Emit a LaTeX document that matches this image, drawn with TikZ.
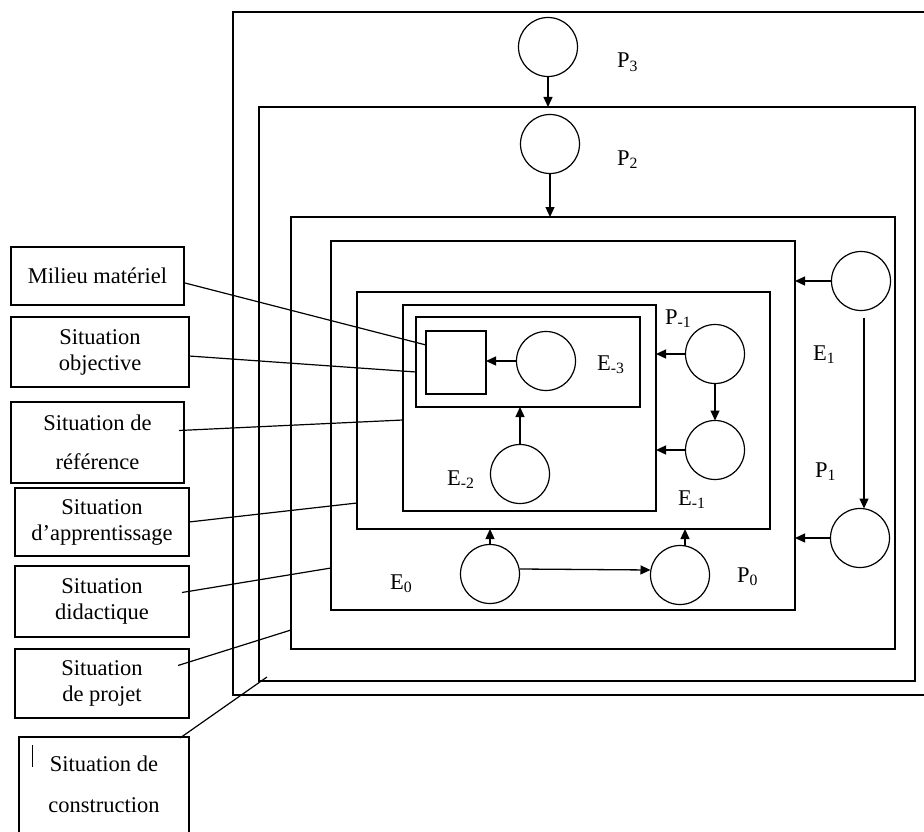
\documentclass[tikz,border=0pt]{standalone}
\usepackage{fontspec}
\setmainfont{Liberation Serif}
\usetikzlibrary{arrows.meta,calc}
\begin{document}
\begin{tikzpicture}[x=1pt,y=-1pt,
  frame/.style={draw, line width=1.5pt, inner sep=0pt, outer sep=0pt},
  circ/.style={draw, circle, line width=1.2pt, minimum size=59pt, inner sep=0pt, outer sep=0pt},
  lbl/.style={draw, line width=1.5pt, inner sep=0pt, outer sep=0pt, align=center, font=\fontsize{22.5}{26}\selectfont},
  tag/.style={anchor=base west, inner sep=0pt, font=\fontsize{22.5}{26}\selectfont},
  arr/.style={-{Triangle[length=10pt,width=9pt]}, line width=1.3pt},
  lead/.style={line width=1.2pt}
]
\useasboundingbox (0,0) rectangle (924,832);

% outer frame (right side lies beyond the picture)
\draw[line width=1.5pt] (924,12) -- (233,12) -- (233,695) -- (924,695);

% nested frames
\node[frame, minimum width=656pt, minimum height=574pt] (bB) at (587,394) {};
\node[frame, minimum width=604pt, minimum height=432pt] (bC) at (593,433) {};
\node[frame, minimum width=464pt, minimum height=369pt] (bD) at (563,425.5) {};
\node[frame, minimum width=413pt, minimum height=237pt] (bE) at (563.5,410.5) {};
\node[frame, minimum width=253pt, minimum height=206pt] (bF) at (529.5,408) {};
\node[frame, minimum width=224pt, minimum height=90pt] (bG) at (528,362) {};
\node[frame, minimum width=60pt, minimum height=63pt] (sq) at (456,362.5) {};

% circles
\node[circ] (cP3) at (548,47) {};
\node[circ] (cP2) at (550,144) {};
\node[circ] (cTR) at (861,281) {};
\node[circ] (cBR) at (860,538) {};
\node[circ] (cPa) at (715,354) {};
\node[circ] (cPb) at (715,450) {};
\node[circ] (cE3) at (546,361) {};
\node[circ] (cE2) at (520,474) {};
\node[circ] (cE0) at (490,574) {};
\node[circ] (cP0) at (680,575) {};

% arrows
\draw[arr] (cP3.south) -- (cP3.south |- bB.north);
\draw[arr] (cP2.south) -- (cP2.south |- bC.north);
\draw[arr] (cTR.west) -- (cTR.west -| bD.east);
\draw[arr, shorten <=7pt] ($(cTR.south)+(3,0)$) -- ($(cBR.north)+(4,0)$);
\draw[arr] (cBR.west) -- (cBR.west -| bD.east);
\draw[arr] (cPa.west) -- (cPa.west -| bF.east);
\draw[arr] (cPa.south) -- (cPb.north);
\draw[arr] (cPb.west) -- (cPb.west -| bF.east);
\draw[arr] (cE3.west) -- (cE3.west -| sq.east);
\draw[arr] (cE2.north) -- (cE2.north |- bG.south);
\draw[arr] ($(cE0.east)+(0,-5)$) -- ($(cP0.west)+(0,-5)$);
\draw[arr] (cE0.north) -- (cE0.north |- bE.south);
\draw[arr] ($(cP0.north)+(5,0)$) -- ($(cP0.north |- bE.south)+(5,0)$);

% labels inside
\node[tag] (tP3) at (617,68) {P\textsubscript{3}};
\node[tag] (tP2) at (617,165) {P\textsubscript{2}};
\node[tag] (tE1) at (813,360) {E\textsubscript{1}};
\node[tag] (tP1) at (815,477) {P\textsubscript{1}};
\node[tag] (tPm1) at (665,324) {P\textsubscript{-1}};
\node[tag] (tEm3) at (597,370) {E\textsubscript{-3}};
\node[tag] (tEm2) at (447,485) {E\textsubscript{-2}};
\node[tag] (tEm1) at (678,505) {E\textsubscript{-1}};
\node[tag] (tE0) at (390,589) {E\textsubscript{0}};
\node[tag] (tP0) at (737,582) {P\textsubscript{0}};

% left label boxes
\node[lbl, minimum width=173pt, minimum height=58pt] (lMil) at (97.5,276) {Milieu matériel};
\node[lbl, minimum width=178pt, minimum height=70pt] (lObj) at (100,352) {Situation\\objective};
\node[lbl, minimum width=173pt, minimum height=81pt] (lRef) at (97.5,442.5) {Situation de\\[13pt]référence};
\node[lbl, minimum width=174pt, minimum height=68pt] (lApp) at (102,522) {Situation\\d’apprentissage};
\node[lbl, minimum width=174pt, minimum height=71pt] (lDid) at (102,601.5) {Situation\\didactique};
\node[lbl, minimum width=174pt, minimum height=69pt] (lPro) at (102,683.5) {Situation\\de projet};
\node[lbl, draw=none, minimum width=170pt, minimum height=95pt] (lCon) at (104,784.5) {Situation de\\[15pt]construction};
\draw[line width=1.5pt] (lCon.south west) -- (lCon.north west) -- (lCon.north east) -- (lCon.south east);
\draw[line width=0.8pt] (32,745) -- (32,767);

% leader lines
\coordinate (eMil) at (426,345);
\coordinate (eObj) at (416,372);
\coordinate (eRef) at (403,420);
\coordinate (eApp) at (357,503);
\coordinate (eDid) at (331,568);
\coordinate (ePro) at (291,630);
\coordinate (eCon) at (267,677);
\draw[lead] ($(lMil.east)+(1,7)$) -- (eMil);
\draw[lead] ($(lObj.east)+(0,4)$) -- (eObj);
\draw[lead] ($(lRef.east)+(-5,-12)$) -- (eRef);
\draw[lead] (lApp.east) -- (eApp);
\draw[lead] ($(lDid.east)+(-7,-9)$) -- (eDid);
\draw[lead] ($(lPro.east)+(-11,-18)$) -- (ePro);
\draw[lead] ($(lCon.north east)+(-9,1)$) -- (eCon);
\end{tikzpicture}
\end{document}
